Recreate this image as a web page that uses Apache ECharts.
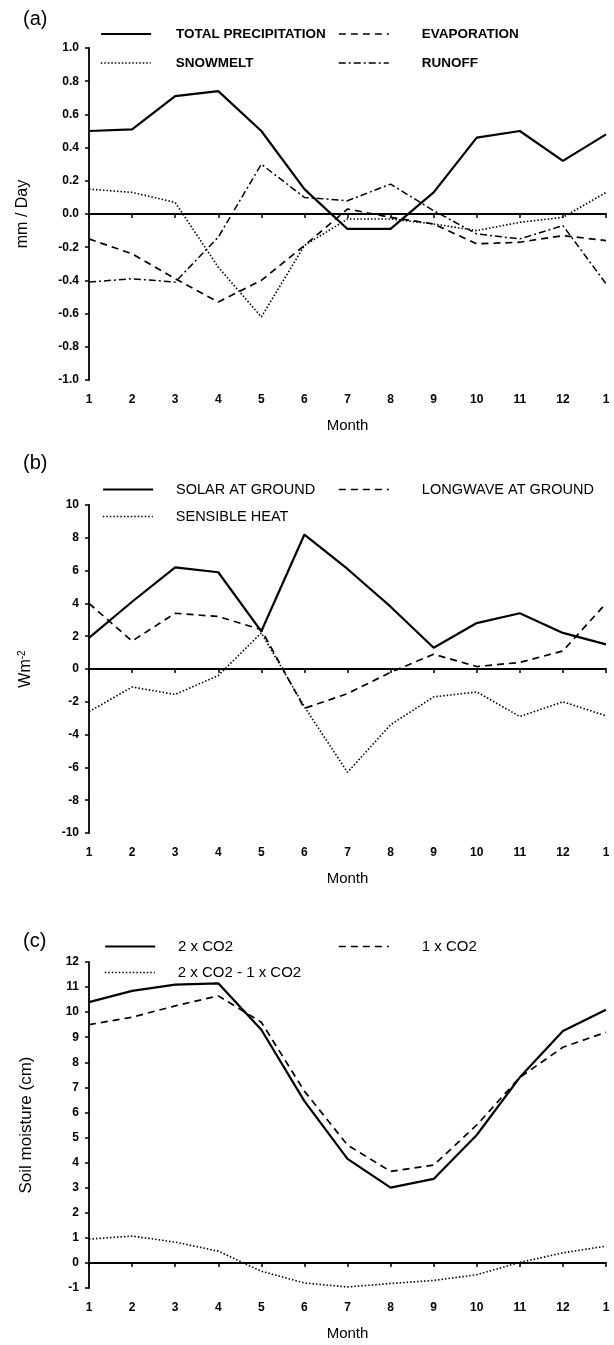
<!DOCTYPE html>
<html>
<head>
<meta charset="utf-8">
<script src="https://cdn.jsdelivr.net/npm/echarts@6/dist/echarts.min.js"></script>
<style>
html,body{margin:0;padding:0;background:#fff;}
#chart{width:614px;height:1345px;}
</style>
</head>
<body>
<div id="chart"></div>
<script>
// ---- data ----
const monthLabels = ['1','2','3','4','5','6','7','8','9','10','11','12','1'];

// Panel (a): mm / Day
const totalPrecip = [0.50, 0.51, 0.71, 0.74, 0.50, 0.15, -0.09, -0.09, 0.13, 0.46, 0.50, 0.32, 0.48];
const evaporation = [-0.15, -0.24, -0.39, -0.53, -0.40, -0.19, 0.03, -0.02, -0.06, -0.18, -0.17, -0.13, -0.16];
const snowmelt    = [0.15, 0.13, 0.07, -0.32, -0.62, -0.19, -0.03, -0.03, -0.06, -0.10, -0.05, -0.02, 0.13];
const runoff      = [-0.41, -0.39, -0.41, -0.14, 0.30, 0.10, 0.08, 0.18, 0.02, -0.12, -0.15, -0.07, -0.42];

// Panel (b): Wm-2
const solarGround    = [1.9, 4.1, 6.2, 5.9, 2.3, 8.2, 6.1, 3.8, 1.3, 2.8, 3.4, 2.2, 1.5];
const longwaveGround = [4.0, 1.7, 3.4, 3.2, 2.4, -2.4, -1.5, -0.2, 0.9, 0.15, 0.4, 1.1, 4.0];
const sensibleHeat   = [-2.6, -1.1, -1.55, -0.4, 2.2, -2.3, -6.3, -3.4, -1.7, -1.4, -2.9, -2.0, -2.85];

// Panel (c): Soil moisture (cm)
const co2x2   = [10.4, 10.85, 11.1, 11.15, 9.3, 6.45, 4.15, 3.0, 3.35, 5.1, 7.4, 9.25, 10.1];
const co2x1   = [9.5, 9.8, 10.25, 10.65, 9.6, 6.85, 4.7, 3.65, 3.9, 5.5, 7.4, 8.6, 9.2];
const co2diff = [0.95, 1.07, 0.83, 0.47, -0.33, -0.8, -0.96, -0.82, -0.7, -0.47, 0.02, 0.4, 0.67];

const yTicksA = {min: -1, max: 1, interval: 0.2};
const yTicksB = {min: -10, max: 10, interval: 2};
const yTicksC = {min: -1, max: 12, interval: 1};

// ---- helpers ----
const pairs = arr => arr.map((v, i) => [i + 1, v]);
const FONT = '"Liberation Sans", Arial, sans-serif';
const SOLID = {type: 'solid', width: 2.2};
const DASHED = {type: [7, 5], width: 1.7};
const DOTTED = {type: [1.5, 2], width: 1.6};
const DASHDOT = {type: [7, 3, 2, 3], width: 1.5};

function line(name, data, style, idx, zero) {
  const s = {
    type: 'line', name: name, data: pairs(data),
    xAxisIndex: idx, yAxisIndex: idx,
    symbol: 'none', silent: true, animation: false,
    lineStyle: Object.assign({color: '#000'}, style),
    itemStyle: {color: '#000'}
  };
  if (zero) {
    s.markLine = {
      silent: true, symbol: 'none', animation: false,
      label: {show: false},
      lineStyle: {color: '#000', type: 'solid', width: 1.8},
      data: [{yAxis: 0}]
    };
  }
  return s;
}

function xAxis(idx) {
  return {
    type: 'value', gridIndex: idx, min: 1, max: 13, interval: 1,
    name: 'Month', nameLocation: 'middle', nameGap: 38,
    nameTextStyle: {fontFamily: FONT, fontSize: 15, color: '#000'},
    axisLine: {show: true, lineStyle: {color: '#000', width: 2}},
    axisTick: {show: true, length: 4, lineStyle: {color: '#000', width: 1.5}},
    axisLabel: {fontFamily: FONT, fontSize: 12, fontWeight: 'bold', color: '#000', margin: 14,
      formatter: v => monthLabels[Math.round(v) - 1]},
    splitLine: {show: false}
  };
}

function yAxis(idx, t, name, gap, fmt, nameSize) {
  return {
    type: 'value', gridIndex: idx, min: t.min, max: t.max, interval: t.interval,
    name: name, nameLocation: 'middle', nameGap: gap,
    nameTextStyle: {fontFamily: FONT, fontSize: nameSize, color: '#000', rich: {sup: {fontSize: 10, verticalAlign: 'top', padding: [0,0,8,0], fontFamily: FONT}}},
    axisLine: {show: true, lineStyle: {color: '#000', width: 1.8}},
    axisTick: {show: true, length: 4, lineStyle: {color: '#000', width: 1.5}},
    axisLabel: {fontFamily: FONT, fontSize: 12, fontWeight: 'bold', color: '#000', margin: 10, formatter: fmt},
    splitLine: {show: false}
  };
}

function leg(name, left, top, ts, pad, style) {
  return {
    data: [name], left: left, top: top, padding: 0,
    itemWidth: 50, itemHeight: 12, selectedMode: false,
    itemStyle: {opacity: 0, borderWidth: 0},
    lineStyle: {color: '#000', width: style.width, type: style.type},
    textStyle: Object.assign({fontFamily: FONT, color: '#000', padding: [0, 0, 0, pad]}, ts)
  };
}

const tsA = {fontSize: 13.5, fontWeight: 'bold'};
const tsB = {fontSize: 14.5};
const tsC = {fontSize: 15};

const chart = echarts.init(document.getElementById('chart'), null, {renderer: 'canvas'});
chart.setOption({
  animation: false,
  backgroundColor: '#fff',
  title: [
    {text: '(a)', left: 18, top: 4, textStyle: {fontFamily: FONT, fontSize: 20, fontWeight: 'normal', color: '#000'}},
    {text: '(b)', left: 18, top: 448, textStyle: {fontFamily: FONT, fontSize: 20, fontWeight: 'normal', color: '#000'}},
    {text: '(c)', left: 18, top: 926, textStyle: {fontFamily: FONT, fontSize: 20, fontWeight: 'normal', color: '#000'}}
  ],
  grid: [
    {left: 89, right: 8, top: 48, height: 332},
    {left: 89, right: 8, top: 505, height: 328},
    {left: 89, right: 8, top: 962, height: 326}
  ],
  xAxis: [xAxis(0), xAxis(1), xAxis(2)],
  yAxis: [
    yAxis(0, yTicksA, 'mm / Day', 58, v => v.toFixed(1), 16),
    yAxis(1, yTicksB, 'Wm{sup|-2}', 54, v => String(v), 16),
    yAxis(2, yTicksC, 'Soil moisture (cm)', 54, v => String(v), 17)
  ],
  legend: [
    leg('TOTAL PRECIPITATION', 100, 27, tsA, 20, SOLID),
    leg('EVAPORATION', 338, 27, tsA, 28, DASHED),
    leg('SNOWMELT', 100, 56, tsA, 20, DOTTED),
    leg('RUNOFF', 338, 56, tsA, 28, DASHDOT),
    leg('SOLAR AT GROUND', 102, 482, tsB, 18, SOLID),
    leg('LONGWAVE AT GROUND', 338, 482, tsB, 28, DASHED),
    leg('SENSIBLE HEAT', 102, 509, tsB, 18, DOTTED),
    leg('2 x CO2', 104, 939, tsC, 18, SOLID),
    leg('1 x CO2', 338, 939, tsC, 28, DASHED),
    leg('2 x CO2 - 1 x CO2', 104, 965, tsC, 18, DOTTED)
  ],
  series: [
    line('TOTAL PRECIPITATION', totalPrecip, SOLID, 0, true),
    line('EVAPORATION', evaporation, DASHED, 0),
    line('SNOWMELT', snowmelt, DOTTED, 0),
    line('RUNOFF', runoff, DASHDOT, 0),
    line('SOLAR AT GROUND', solarGround, SOLID, 1, true),
    line('LONGWAVE AT GROUND', longwaveGround, DASHED, 1),
    line('SENSIBLE HEAT', sensibleHeat, DOTTED, 1),
    line('2 x CO2', co2x2, SOLID, 2, true),
    line('1 x CO2', co2x1, DASHED, 2),
    line('2 x CO2 - 1 x CO2', co2diff, DOTTED, 2)
  ]
});
</script>
</body>
</html>
